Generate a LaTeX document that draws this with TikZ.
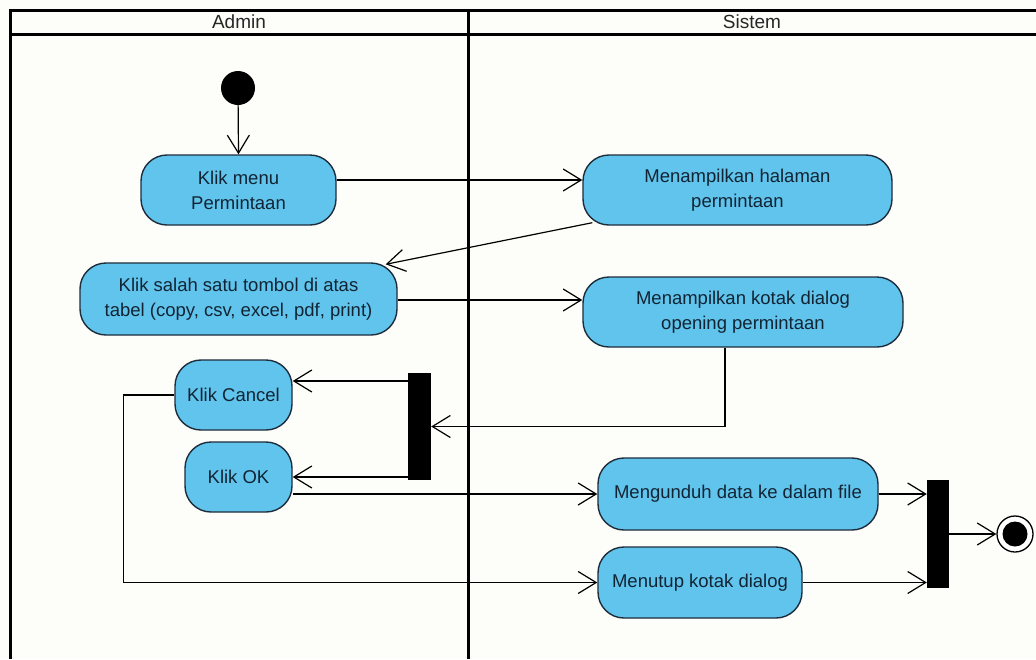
\documentclass[tikz,border=0pt]{standalone}
\usepackage{fontspec}
\setmainfont{Liberation Sans}
\usetikzlibrary{arrows.meta}
\definecolor{actfill}{RGB}{96,196,236}
\definecolor{actline}{RGB}{30,45,60}
\definecolor{acttext}{RGB}{18,36,52}
\definecolor{paper}{RGB}{253,253,249}
\begin{document}
\begin{tikzpicture}[x=1pt,y=-1pt,
  act/.style={draw=actline, line width=1.4pt, fill=actfill, rounded corners=26pt,
    align=center, font=\fontsize{18.5}{25}\selectfont, text=acttext, inner sep=0pt},
  syncbar/.style={fill=black, draw=none, inner sep=0pt, rectangle},
  flow/.style={line width=1.2pt, -{Straight Barb[length=18pt,width=22pt]}},
  lane/.style={line width=3pt},
  lanetitle/.style={font=\fontsize{19}{22}\selectfont, text=black!85}
]
% canvas
\fill[paper] (0,0) rectangle (1036,659);
\useasboundingbox (0,0) rectangle (1036,659);

% swimlanes
\draw[lane] (1036,10) -- (10,10) -- (10,659);
\draw[lane] (10,34) -- (1036,34);
\draw[lane] (468,10) -- (468,659);
\node[lanetitle] (hAdmin) at (239,22) {Admin};
\node[lanetitle] (hSistem) at (752,22) {Sistem};

% start and end
\node[circle, fill=black, minimum size=34pt, inner sep=0pt] (start) at (238,88) {};
\node[circle, draw=black, line width=1.3pt, fill=white, minimum size=36pt, inner sep=0pt] (final) at (1015,534) {};
\node[circle, fill=black, minimum size=25pt, inner sep=0pt] (finaldot) at (final.center) {};

% activities
\node[act, minimum width=195pt, minimum height=70pt] (menu) at (238.5,190) {Klik menu\\Permintaan};
\node[act, minimum width=309pt, minimum height=70pt] (halaman) at (737.5,190) {Menampilkan halaman\\permintaan};
\node[act, minimum width=317pt, minimum height=72pt] (tombol) at (238.5,299) {Klik salah satu tombol di atas\\tabel (copy, csv, excel, pdf, print)};
\node[act, minimum width=320pt, minimum height=70pt] (kotak) at (743,312) {Menampilkan kotak dialog\\opening permintaan};
\node[act, minimum width=117pt, minimum height=70pt] (cancel) at (233.5,395) {Klik Cancel};
\node[act, minimum width=107pt, minimum height=70pt] (ok) at (238.5,477) {Klik OK};
\node[act, minimum width=280pt, minimum height=72pt] (unduh) at (738,494) {Mengunduh data ke dalam file};
\node[act, minimum width=204pt, minimum height=71pt] (tutup) at (700,582.5) {Menutup kotak dialog};

% fork and join bars
\node[syncbar, minimum width=23pt, minimum height=107pt] (fork) at (419.5,426.5) {};
\node[syncbar, minimum width=22pt, minimum height=108pt] (join) at (938,534) {};

% flows
\draw[flow] (start) -- (menu.north);
\draw[flow] ([yshift=10pt]menu.east) -- ([yshift=10pt]menu.east -| halaman.west);
\coordinate (hsw) at ([xshift=10pt,yshift=3pt]halaman.south west);
\coordinate (tne) at ([xshift=-12pt,yshift=-2pt]tombol.north east);
\draw[flow] (hsw) -- (tne);
\coordinate (t1) at ([yshift=-1pt]tombol.east);
\draw[flow] (t1) -- (t1 -| kotak.west);
\draw[flow] ([xshift=-18pt]kotak.south) |- (fork.east);
\coordinate (f1) at ([yshift=45.5pt]fork.west);
\draw[flow] (f1) -- (f1 -| cancel.east);
\coordinate (f2) at ([yshift=-50.5pt]fork.west);
\draw[flow] (f2) -- (f2 -| ok.east);
\coordinate (o1) at ([yshift=-17pt]ok.east);
\draw[flow] (o1) -- (o1 -| unduh.west);
\draw[flow] (cancel.west) -- ++(-51,0) |- (tutup.west);
\draw[flow] (unduh.east) -- (unduh.east -| join.west);
\draw[flow] (tutup.east) -- (tutup.east -| join.west);
\draw[flow] (join.east) -- (final.west);
\end{tikzpicture}
\end{document}
